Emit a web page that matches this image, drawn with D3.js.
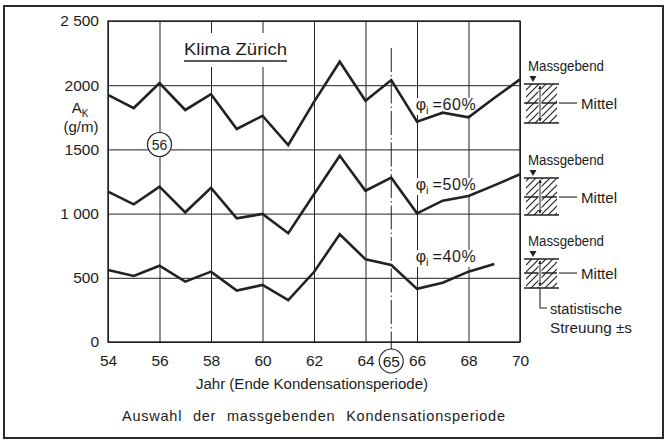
<!DOCTYPE html>
<html>
<head>
<meta charset="utf-8">
<script src="https://cdn.jsdelivr.net/npm/d3@7"></script>
<style>
body { margin: 0; background: #fff; }
svg text { font-family: "Liberation Sans", Arial, sans-serif; fill: #1c1c1c; }
</style>
</head>
<body>
<svg id="chart" width="665" height="441"></svg>
<script>
// values (A_K in g/m, per year end of condensation period)
var years = [54, 55, 56, 57, 58, 59, 60, 61, 62, 63, 64, 65, 66, 67, 68, 69, 70];
var phi60 = [1924, 1822, 2017, 1807, 1930, 1659, 1762, 1534, 1870, 2183, 1879, 2040, 1716, 1786, 1750, 1900, 2045];
var phi50 = [1171, 1072, 1210, 1010, 1200, 963, 997, 847, 1150, 1451, 1178, 1280, 1002, 1101, 1137, 1220, 1306];
var phi40 = [561, 514, 594, 470, 548, 400, 444, 327, 545, 839, 644, 600, 414, 462, 548, 607];
var seriesNames = ["60%", "50%", "40%"];

var yTicks = [0, 500, 1000, 1500, 2000, 2500];
var yTickLabels = ["0", "500", "1 000", "1500", "2000", "2 500"];
var xTicks = [54, 56, 58, 60, 62, 64, 66, 68, 70];

// right hand boxes: Massgebend / Mittel / Mittel - s
var massgebend = [2009, 1277, 646];
var mittel = [1861, 1129, 537];
var unterGrenze = [1706, 989, 421];

var svg = d3.select("#chart"),
    plotLeft = 108, plotTop = 21, W = 412, H = 321;
var x = d3.scaleLinear().domain([54, 70]).range([plotLeft, plotLeft + W]);
var y = d3.scaleLinear().domain([0, 2500]).range([plotTop + H, plotTop]);
var ink = "#222";

// hatch pattern ("/" direction)
var defs = svg.append("defs");
defs.append("pattern")
    .attr("id", "hatch")
    .attr("patternUnits", "userSpaceOnUse")
    .attr("width", 7).attr("height", 7)
  .append("path")
    .attr("d", "M-1,1 L1,-1 M0,7 L7,0 M6,8 L8,6")
    .attr("stroke", ink).attr("stroke-width", 1.2);
defs.append("marker")
    .attr("id", "arr")
    .attr("viewBox", "0 0 6 6").attr("refX", 5).attr("refY", 3)
    .attr("markerWidth", 4).attr("markerHeight", 4)
    .attr("orient", "auto-start-reverse")
  .append("path").attr("d", "M0,0 L6,3 L0,6 z").attr("fill", ink);

// outer frame
svg.append("rect")
    .attr("x", 4).attr("y", 6).attr("width", 659).attr("height", 432)
    .attr("fill", "none").attr("stroke", "#2a2a2a").attr("stroke-width", 2);

// axes with grid
var yAxis = d3.axisLeft(y).tickValues(yTicks)
    .tickFormat(function (d, i) { return yTickLabels[i]; })
    .tickSizeInner(-W).tickSizeOuter(0).tickPadding(9);
var xAxis = d3.axisBottom(x).tickValues(xTicks)
    .tickFormat(function (d) { return d; })
    .tickSizeInner(-H).tickSizeOuter(0).tickPadding(13);

var gy = svg.append("g").attr("transform", "translate(" + plotLeft + ",0)").call(yAxis);
var gx = svg.append("g").attr("transform", "translate(0," + (plotTop + H) + ")").call(xAxis);
[gx, gy].forEach(function (g) {
    g.select(".domain").remove();
    g.selectAll(".tick line").attr("stroke", ink).attr("stroke-width", 1);
    g.selectAll(".tick text").style("font-size", "15.5px").style("fill", "#1c1c1c");
});

svg.append("rect")
    .attr("x", plotLeft).attr("y", plotTop).attr("width", W).attr("height", H)
    .attr("fill", "none").attr("stroke", ink).attr("stroke-width", 1.4);

// title with knockout
svg.append("rect").attr("x", 178).attr("y", 33).attr("width", 116).attr("height", 34).attr("fill", "#fff");
svg.append("text")
    .attr("x", 184).attr("y", 55)
    .attr("textLength", 103).attr("lengthAdjust", "spacingAndGlyphs")
    .style("font-size", "16.5px")
    .text("Klima Zürich");
svg.append("line")
    .attr("x1", 184).attr("x2", 287).attr("y1", 61).attr("y2", 61)
    .attr("stroke", ink).attr("stroke-width", 1.4);

// dash-dot line at 65
svg.append("line")
    .attr("x1", x(65)).attr("x2", x(65)).attr("y1", 48).attr("y2", 349)
    .attr("stroke", ink).attr("stroke-width", 1)
    .attr("stroke-dasharray", "24,3,1.5,3");

// phi labels (knockout behind)
var labelY = [1807, 1184, 623];
var knock = svg.append("g");
var labelGroup = svg.append("g");
seriesNames.forEach(function (name, i) {
    var t = labelGroup.append("text")
        .attr("x", x(65.95)).attr("y", y(labelY[i]))
        .style("font-size", "16px");
    t.append("tspan").text("φ");
    t.append("tspan").attr("dy", 4).style("font-size", "11px").text("i");
    t.append("tspan").attr("dy", -4).attr("dx", 4).style("letter-spacing", "0.6px").text("=" + name);
    var bb = t.node().getBBox();
    knock.append("rect")
        .attr("x", bb.x - 1).attr("y", bb.y + 2)
        .attr("width", bb.width + 2).attr("height", bb.height - 3)
        .attr("fill", "#fff");
});

// data lines
var line = d3.line()
    .x(function (d) { return x(d[0]); })
    .y(function (d) { return y(d[1]); });
[phi60, phi50, phi40].forEach(function (vals) {
    svg.append("path")
        .datum(vals.map(function (v, i) { return [years[i], v]; }))
        .attr("d", line)
        .attr("fill", "none").attr("stroke", ink)
        .attr("stroke-width", 2.6).attr("stroke-linejoin", "miter");
});
labelGroup.raise();

// circled 56
svg.append("circle").attr("cx", x(56)).attr("cy", 144.5).attr("r", 12)
    .attr("fill", "#fff").attr("stroke", ink).attr("stroke-width", 1.2);
svg.append("text").attr("x", x(56)).attr("y", 149.5).attr("text-anchor", "middle")
    .style("font-size", "14px").text("56");

// circled 65 on x axis
svg.append("circle").attr("cx", x(65)).attr("cy", 361).attr("r", 12)
    .attr("fill", "#fff").attr("stroke", ink).attr("stroke-width", 1.1);
svg.append("text").attr("x", x(65)).attr("y", 366.5).attr("text-anchor", "middle")
    .style("font-size", "15.5px").text("65");

// y label
var yl = svg.append("text").attr("x", 80).attr("y", 113).attr("text-anchor", "middle")
    .style("font-size", "15px");
yl.append("tspan").text("A");
yl.append("tspan").attr("dy", 4).style("font-size", "10px").text("K");
svg.append("text").attr("x", 81).attr("y", 132).attr("text-anchor", "middle")
    .style("font-size", "15px").text("(g/m)");

// x titles
svg.append("text").attr("x", 312).attr("y", 389).attr("text-anchor", "middle")
    .attr("textLength", 232).attr("lengthAdjust", "spacingAndGlyphs")
    .style("font-size", "14px").text("Jahr (Ende Kondensationsperiode)");
svg.append("text").attr("x", 313.5).attr("y", 421).attr("text-anchor", "middle")
    .attr("textLength", 383).attr("lengthAdjust", "spacing")
    .style("font-size", "14.5px").style("word-spacing", "6px")
    .text("Auswahl der massgebenden Kondensationsperiode");

// right annotation boxes
var bx0 = 524, bx1 = 559, bmid = 540;
massgebend.forEach(function (m, i) {
    var t = y(m), c = y(mittel[i]), b = y(unterGrenze[i]);
    var g = svg.append("g");
    g.append("rect").attr("x", bx0 + 2).attr("y", t).attr("width", bx1 - bx0 - 4).attr("height", b - t)
        .attr("fill", "url(#hatch)");
    [t, c, b].forEach(function (yy, k) {
        g.append("line").attr("x1", bx0).attr("x2", k === 1 ? bx1 - 2 : bx1)
            .attr("y1", yy).attr("y2", yy).attr("stroke", ink).attr("stroke-width", 1.4);
    });
    g.append("rect").attr("x", bmid - 1.5).attr("y", t + 1).attr("width", 3).attr("height", b - t - 2).attr("fill", "#fff");
    g.append("line").attr("x1", bmid).attr("x2", bmid).attr("y1", c).attr("y2", t + 2)
        .attr("stroke", ink).attr("stroke-width", 1).attr("marker-end", "url(#arr)");
    g.append("line").attr("x1", bmid).attr("x2", bmid).attr("y1", c).attr("y2", b - 2)
        .attr("stroke", ink).attr("stroke-width", 1).attr("marker-end", "url(#arr)");
    g.append("path")
        .attr("d", "M" + (bmid - 10.5) + "," + (t - 8) + " h7 l-3.5,6 z")
        .attr("fill", ink);
    g.append("text").attr("x", 528).attr("y", t - 13)
        .attr("textLength", 76).attr("lengthAdjust", "spacingAndGlyphs")
        .style("font-size", "14px").text("Massgebend");
    g.append("line").attr("x1", bx1).attr("x2", 577).attr("y1", c).attr("y2", c)
        .attr("stroke", ink).attr("stroke-width", 1.1);
    g.append("text").attr("x", 581).attr("y", c + 5.5)
        .attr("textLength", 36).attr("lengthAdjust", "spacingAndGlyphs")
        .style("font-size", "14px").text("Mittel");
    if (i === 2) {
        g.append("path").attr("d", "M" + bmid + "," + b + " V308 H547")
            .attr("fill", "none").attr("stroke", ink).attr("stroke-width", 1.1);
        g.append("text").attr("x", 550).attr("y", 314)
            .attr("textLength", 72).attr("lengthAdjust", "spacingAndGlyphs")
            .style("font-size", "14px").text("statistische");
        g.append("text").attr("x", 550).attr("y", 333)
            .attr("textLength", 82).attr("lengthAdjust", "spacingAndGlyphs")
            .style("font-size", "14px").text("Streuung ±s");
    }
});
</script>
</body>
</html>
